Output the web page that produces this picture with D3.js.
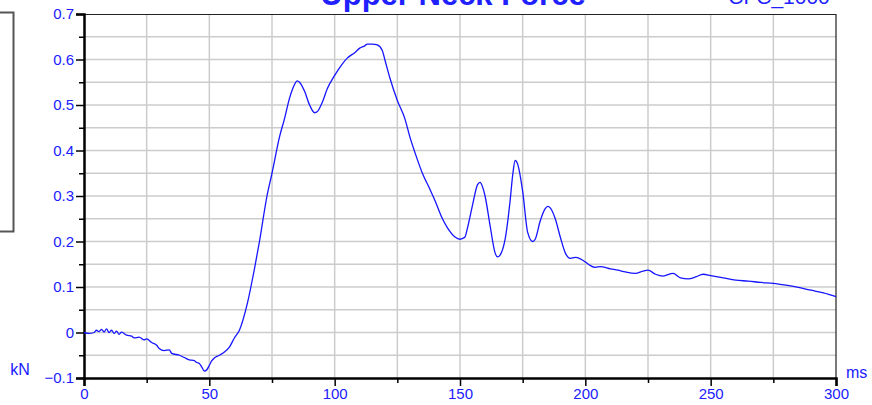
<!DOCTYPE html>
<html>
<head>
<meta charset="utf-8">
<script src="https://cdn.jsdelivr.net/npm/d3@7"></script>
<style>
  body { margin: 0; background: #fff; }
  svg { display: block; font-family: "Liberation Sans", Arial, sans-serif; }
</style>
</head>
<body>
<div id="chart"></div>
<script>
// Data
// ==============================
var timeMs = [0, 2, 4, 5, 6, 7, 8, 9, 10, 11, 12, 13, 14, 15, 17, 19, 20, 22, 24, 25, 27, 29, 30, 32, 34, 35,
  38, 40, 42, 44, 45, 46, 47, 48, 49, 50, 51, 52, 54, 56, 58, 60, 62, 65, 68, 70, 73, 75, 78, 80, 82,
  84, 85, 86, 88, 90, 92, 93, 95, 97, 100, 103, 105, 108, 110, 112, 113, 115, 117, 119, 120, 122, 125,
  128, 130, 133, 135, 138, 140, 143, 145, 148, 150, 151, 152, 153, 155, 157, 158, 159, 160, 162, 164,
  165, 166, 168, 170, 171, 172, 173, 175, 177, 179, 180, 182, 184, 185, 186, 188, 190, 192, 194, 196,
  198, 200, 202, 204, 206, 210, 213, 216, 220, 223, 225, 228, 231, 235, 238, 241, 244, 247, 250, 255,
  260, 265, 270, 275, 280, 285, 290, 295, 300];
var forceKn = [0, -0.002, 0.0, 0.005, 0.002, 0.007, 0.001, 0.008, 0.0, 0.005, -0.002, 0.003, -0.004, 0.001,
  -0.006, -0.008, -0.012, -0.01, -0.016, -0.014, -0.022, -0.028, -0.035, -0.04, -0.038, -0.046, -0.05,
  -0.055, -0.06, -0.062, -0.066, -0.068, -0.076, -0.085, -0.082, -0.072, -0.062, -0.056, -0.05, -0.043,
  -0.032, -0.012, 0.005, 0.06, 0.14, 0.2, 0.3, 0.35, 0.43, 0.47, 0.515, 0.545, 0.553, 0.55, 0.53,
  0.5, 0.483, 0.485, 0.505, 0.535, 0.565, 0.59, 0.603, 0.615, 0.625, 0.63, 0.634, 0.634, 0.632, 0.62,
  0.6, 0.56, 0.51, 0.47, 0.43, 0.38, 0.35, 0.315, 0.29, 0.25, 0.23, 0.21, 0.205, 0.207, 0.21, 0.23, 0.28,
  0.325, 0.33, 0.32, 0.3, 0.235, 0.175, 0.166, 0.17, 0.205, 0.29, 0.345, 0.378, 0.37, 0.31, 0.22, 0.2,
  0.205, 0.245, 0.272, 0.277, 0.274, 0.25, 0.21, 0.175, 0.163, 0.165, 0.162, 0.155, 0.147, 0.143, 0.145,
  0.14, 0.137, 0.133, 0.13, 0.135, 0.137, 0.128, 0.124, 0.13, 0.12, 0.118, 0.122, 0.128, 0.125, 0.12,
  0.115, 0.113, 0.11, 0.108, 0.104, 0.099, 0.093, 0.087, 0.079];

var xTicks = [0, 50, 100, 150, 200, 250, 300];
var yTicks = [-0.1, 0, 0.1, 0.2, 0.3, 0.4, 0.5, 0.6, 0.7];
var titleText = "Upper Neck Force";
var filterText = "CFC_1000";

// Chart area
// ==============================
var svgWidth = 872;
var svgHeight = 405;
var margin = { top: 14, right: 36, bottom: 27, left: 84 };
var width = svgWidth - margin.left - margin.right;
var height = svgHeight - margin.top - margin.bottom;
var blue = "#2020ff";

var svg = d3.select("#chart")
  .append("svg")
  .attr("width", svgWidth)
  .attr("height", svgHeight);

// legend box partly off the left edge
svg.append("rect")
  .attr("x", -5).attr("y", 12.5)
  .attr("width", 18.5).attr("height", 219)
  .attr("fill", "none")
  .attr("stroke", "#555")
  .attr("stroke-width", 2);

var chartGroup = svg.append("g")
  .attr("transform", `translate(${margin.left}, ${margin.top})`);

var xScale = d3.scaleLinear().domain([0, 300]).range([0, width]);
var yScale = d3.scaleLinear().domain([-0.1, 0.7]).range([height, 0]);

// Grid
// ==============================
chartGroup.append("g")
  .selectAll("line")
  .data(d3.range(25, 300, 25))
  .enter().append("line")
  .attr("x1", d => xScale(d)).attr("x2", d => xScale(d))
  .attr("y1", 0).attr("y2", height)
  .attr("stroke", "#cccccc").attr("stroke-width", 1.5);

chartGroup.append("g")
  .selectAll("line")
  .data(d3.range(-0.05, 0.7, 0.05))
  .enter().append("line")
  .attr("x1", 0).attr("x2", width)
  .attr("y1", d => yScale(d)).attr("y2", d => yScale(d))
  .attr("stroke", "#cccccc").attr("stroke-width", 1.5);

// Frame (top / right)
chartGroup.append("path")
  .attr("d", `M0,0.5H${width}V${height}`)
  .attr("fill", "none")
  .attr("stroke", "#222")
  .attr("stroke-width", 1.2);

// Axes
// ==============================
var yAxis = d3.axisLeft(yScale)
  .tickValues(d3.range(-0.1, 0.71, 0.05))
  .tickSize(8)
  .tickFormat(d => {
    var r = Math.round(d * 100);
    if (r % 10 !== 0) return "";
    return d3.format("")(Math.round(d * 10) / 10);
  });

var yG = chartGroup.append("g").call(yAxis);
yG.select(".domain").attr("stroke", "#000").attr("stroke-width", 2.5);
yG.selectAll(".tick line")
  .attr("stroke", "#000").attr("stroke-width", 1.5)
  .attr("x2", (d, i) => i % 2 === 0 ? -8 : -5)
  .attr("x1", 0);
yG.selectAll(".tick text")
  .attr("fill", blue)
  .attr("font-size", 15)
  .attr("x", -10);

var xAxis = d3.axisBottom(xScale)
  .tickValues(d3.range(0, 301, 25))
  .tickSize(8)
  .tickFormat(d => d % 50 === 0 ? d : "");

var xG = chartGroup.append("g")
  .attr("transform", `translate(0, ${height})`)
  .call(xAxis);
xG.select(".domain").attr("stroke", "#000").attr("stroke-width", 2.5);
xG.selectAll(".tick line")
  .attr("stroke", "#000").attr("stroke-width", 1.5)
  .attr("y2", (d, i) => i % 2 === 0 ? 8 : 5);
xG.selectAll(".tick text")
  .attr("fill", blue)
  .attr("font-size", 15)
  .attr("y", 10);

// Units
svg.append("text")
  .attr("x", 20).attr("y", 375)
  .attr("text-anchor", "middle")
  .attr("fill", blue)
  .attr("font-size", 16)
  .text("kN");

svg.append("text")
  .attr("x", 846).attr("y", 378)
  .attr("fill", blue)
  .attr("font-size", 16)
  .text("ms");

// Line
// ==============================
var points = timeMs.map((t, i) => ({ t: t, v: forceKn[i] }));

var line = d3.line()
  .x(d => xScale(d.t))
  .y(d => yScale(d.v))
  .curve(d3.curveMonotoneX);

chartGroup.append("path")
  .datum(points)
  .attr("fill", "none")
  .attr("stroke", "#1515ff")
  .attr("stroke-width", 1.3)
  .attr("d", line);

// Titles (clipped by the top of the page, as in the original)
svg.append("text")
  .attr("x", 453).attr("y", 5)
  .attr("text-anchor", "middle")
  .attr("fill", blue)
  .attr("font-size", 31)
  .attr("font-weight", "bold")
  .text(titleText);

svg.append("text")
  .attr("x", 779).attr("y", 4)
  .attr("text-anchor", "middle")
  .attr("fill", blue)
  .attr("font-size", 21)
  .text(filterText);
</script>
</body>
</html>
